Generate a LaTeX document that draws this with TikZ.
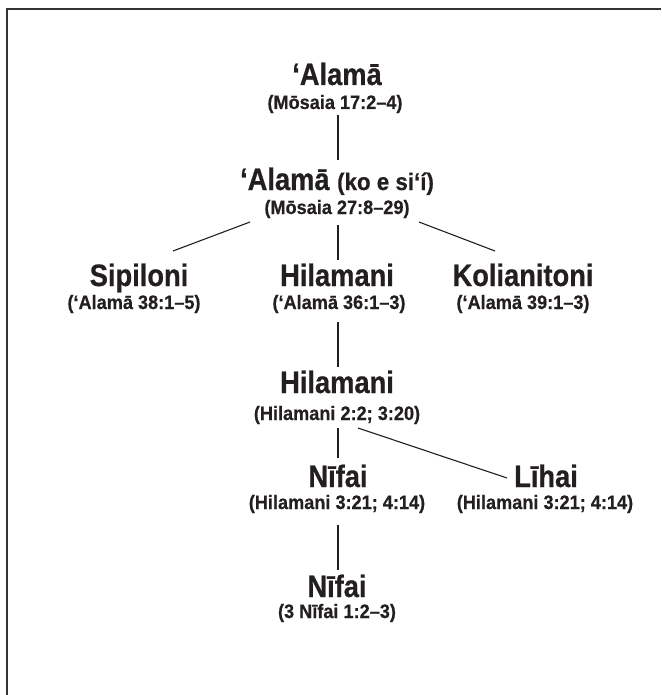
\documentclass[tikz,border=0pt]{standalone}
\usepackage{fontspec}
\setmainfont{Liberation Sans}
\newfontfamily\namefont{Liberation Sans}[FakeStretch=0.88,FakeBold=0.6]
\newfontfamily\reffont{Liberation Sans}[FakeStretch=0.93,FakeBold=0.5]
\usetikzlibrary{calc}
\definecolor{ink}{HTML}{231F20}
\tikzset{
  person/.style={anchor=base, inner sep=0pt, text=ink, font=\namefont\bfseries\fontsize{31}{31}\selectfont},
  refer/.style={anchor=base, inner sep=0pt, text=ink, font=\reffont\bfseries\fontsize{19.5}{19.5}\selectfont},
  link/.style={draw=ink, line width=1.1pt},
  frame/.style={draw=black!80, line width=2pt}
}
\begin{document}
\begin{tikzpicture}[x=1pt,y=-1pt]
\useasboundingbox (0,0) rectangle (661,695);
\coordinate (ftl) at (7,9.5);
\coordinate (ftr) at (661,9.5);
\coordinate (fbl) at (7,695);
\draw[frame] (ftr) -- (ftl) -- (fbl);

\node[person] (alma1) at (337,85) {‘Alamā};
\node[refer] (alma1ref) at (335,109) {(Mōsaia 17:2–4)};
\node[person] (alma2) at (337,190) {‘Alamā {\fontsize{24}{24}\selectfont\reffont (ko e si‘í)}};
\node[refer] (alma2ref) at (337,214) {(Mōsaia 27:8–29)};

\node[person] (sip) at (139,286) {Sipiloni};
\node[refer] (sipref) at (134,309) {(‘Alamā 38:1–5)};
\node[person] (hil1) at (337,286) {Hilamani};
\node[refer] (hil1ref) at (339,309) {(‘Alamā 36:1–3)};
\node[person] (kol) at (523,286) {Kolianitoni};
\node[refer] (kolref) at (523,309) {(‘Alamā 39:1–3)};

\node[person] (hil2) at (337,393) {Hilamani};
\node[refer] (hil2ref) at (337,420) {(Hilamani 2:2; 3:20)};

\node[person] (nif1) at (338,487) {Nīfai};
\node[refer] (nif1ref) at (337,509) {(Hilamani 3:21; 4:14)};
\node[person] (lih) at (546,487) {Līhai};
\node[refer] (lihref) at (545,509) {(Hilamani 3:21; 4:14)};

\node[person] (nif2) at (337,597) {Nīfai};
\node[refer] (nif2ref) at (337,618) {(3 Nīfai 1:2–3)};

\draw[link] ($(alma1ref.base)+(3,6)$) -- ($(alma2.base)+(1,-30)$);
\draw[link] ($(alma2ref.base)+(-87,8)$) -- ($(sip.base)+(34,-35)$);
\draw[link] ($(alma2ref.base)+(1,11)$) -- ($(hil1.base)+(1,-26)$);
\draw[link] ($(alma2ref.base)+(82,8)$) -- ($(kol.base)+(-28,-35)$);
\draw[link] ($(hil1ref.base)+(-1,13)$) -- ($(hil2.base)+(1,-26)$);
\draw[link] ($(hil2ref.base)+(1,8)$) -- ($(nif1.base)+(0,-29)$);
\draw[link] ($(hil2ref.base)+(21,8)$) -- ($(lih.base)+(-39,-9)$);
\draw[link] ($(nif1ref.base)+(1,16)$) -- ($(nif2.base)+(1,-27)$);
\end{tikzpicture}
\end{document}
